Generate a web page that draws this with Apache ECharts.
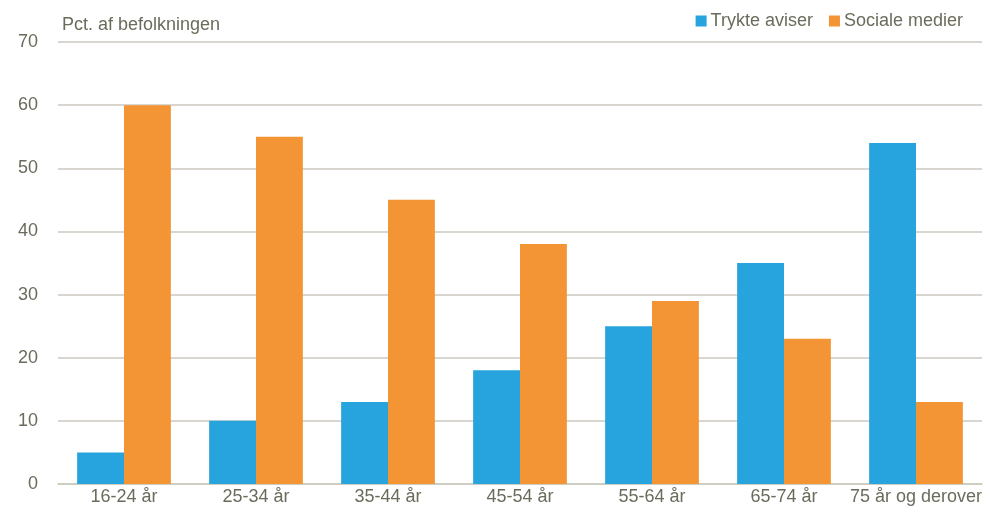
<!DOCTYPE html>
<html><head><meta charset="utf-8">
<script src="https://cdn.jsdelivr.net/npm/echarts@6/dist/echarts.min.js"></script>
<style>html,body{margin:0;padding:0;background:#fff}#c{width:990px;height:522px}</style>
</head><body><div id="c"></div>
<script>
const categories = ["16-24 år","25-34 år","35-44 år","45-54 år","55-64 år","65-74 år","75 år og derover"];
const trykte = [5,10,13,18,25,35,54];
const sociale = [60,55,45,38,29,23,13];
const yTicks = [0,10,20,30,40,50,60,70];
const textColor = '#6b6b5c';
const gridColor = '#cbc9bf';
const font = '"Liberation Sans", Arial, sans-serif';
const chart = echarts.init(document.getElementById('c'));
chart.setOption({
  animation:false,
  textStyle:{fontFamily:font},
  title:{text:'Pct. af befolkningen',left:62,top:16,padding:0,textStyle:{fontSize:18,fontWeight:'normal',color:textColor,fontFamily:font}},
  legend:{right:27,top:12,padding:0,itemWidth:11,itemHeight:11,itemGap:16,icon:'rect',
    textStyle:{fontSize:18,color:textColor,fontFamily:font,padding:[0,0,0,-1]}},
  grid:{left:58,right:8,top:42,bottom:38,containLabel:false},
  xAxis:{type:'category',data:categories,
    axisLine:{lineStyle:{color:gridColor,width:1.5}},axisTick:{show:false},
    axisLabel:{color:textColor,fontSize:18,margin:4,interval:0,fontFamily:font}},
  yAxis:{type:'value',min:yTicks[0],max:yTicks[yTicks.length-1],interval:10,
    axisLine:{show:false},axisTick:{show:false},
    splitLine:{lineStyle:{color:gridColor,width:1.5}},
    axisLabel:{color:textColor,fontSize:18,margin:20,fontFamily:font}},
  series:[
    {name:'Trykte aviser',type:'bar',data:trykte,barGap:'0%',barCategoryGap:'29%',
      itemStyle:{color:'#27a3dd'}},
    {name:'Sociale medier',type:'bar',data:sociale,barGap:'0%',barCategoryGap:'29%',
      itemStyle:{color:'#f39534'}}
  ]
});
</script></body></html>
